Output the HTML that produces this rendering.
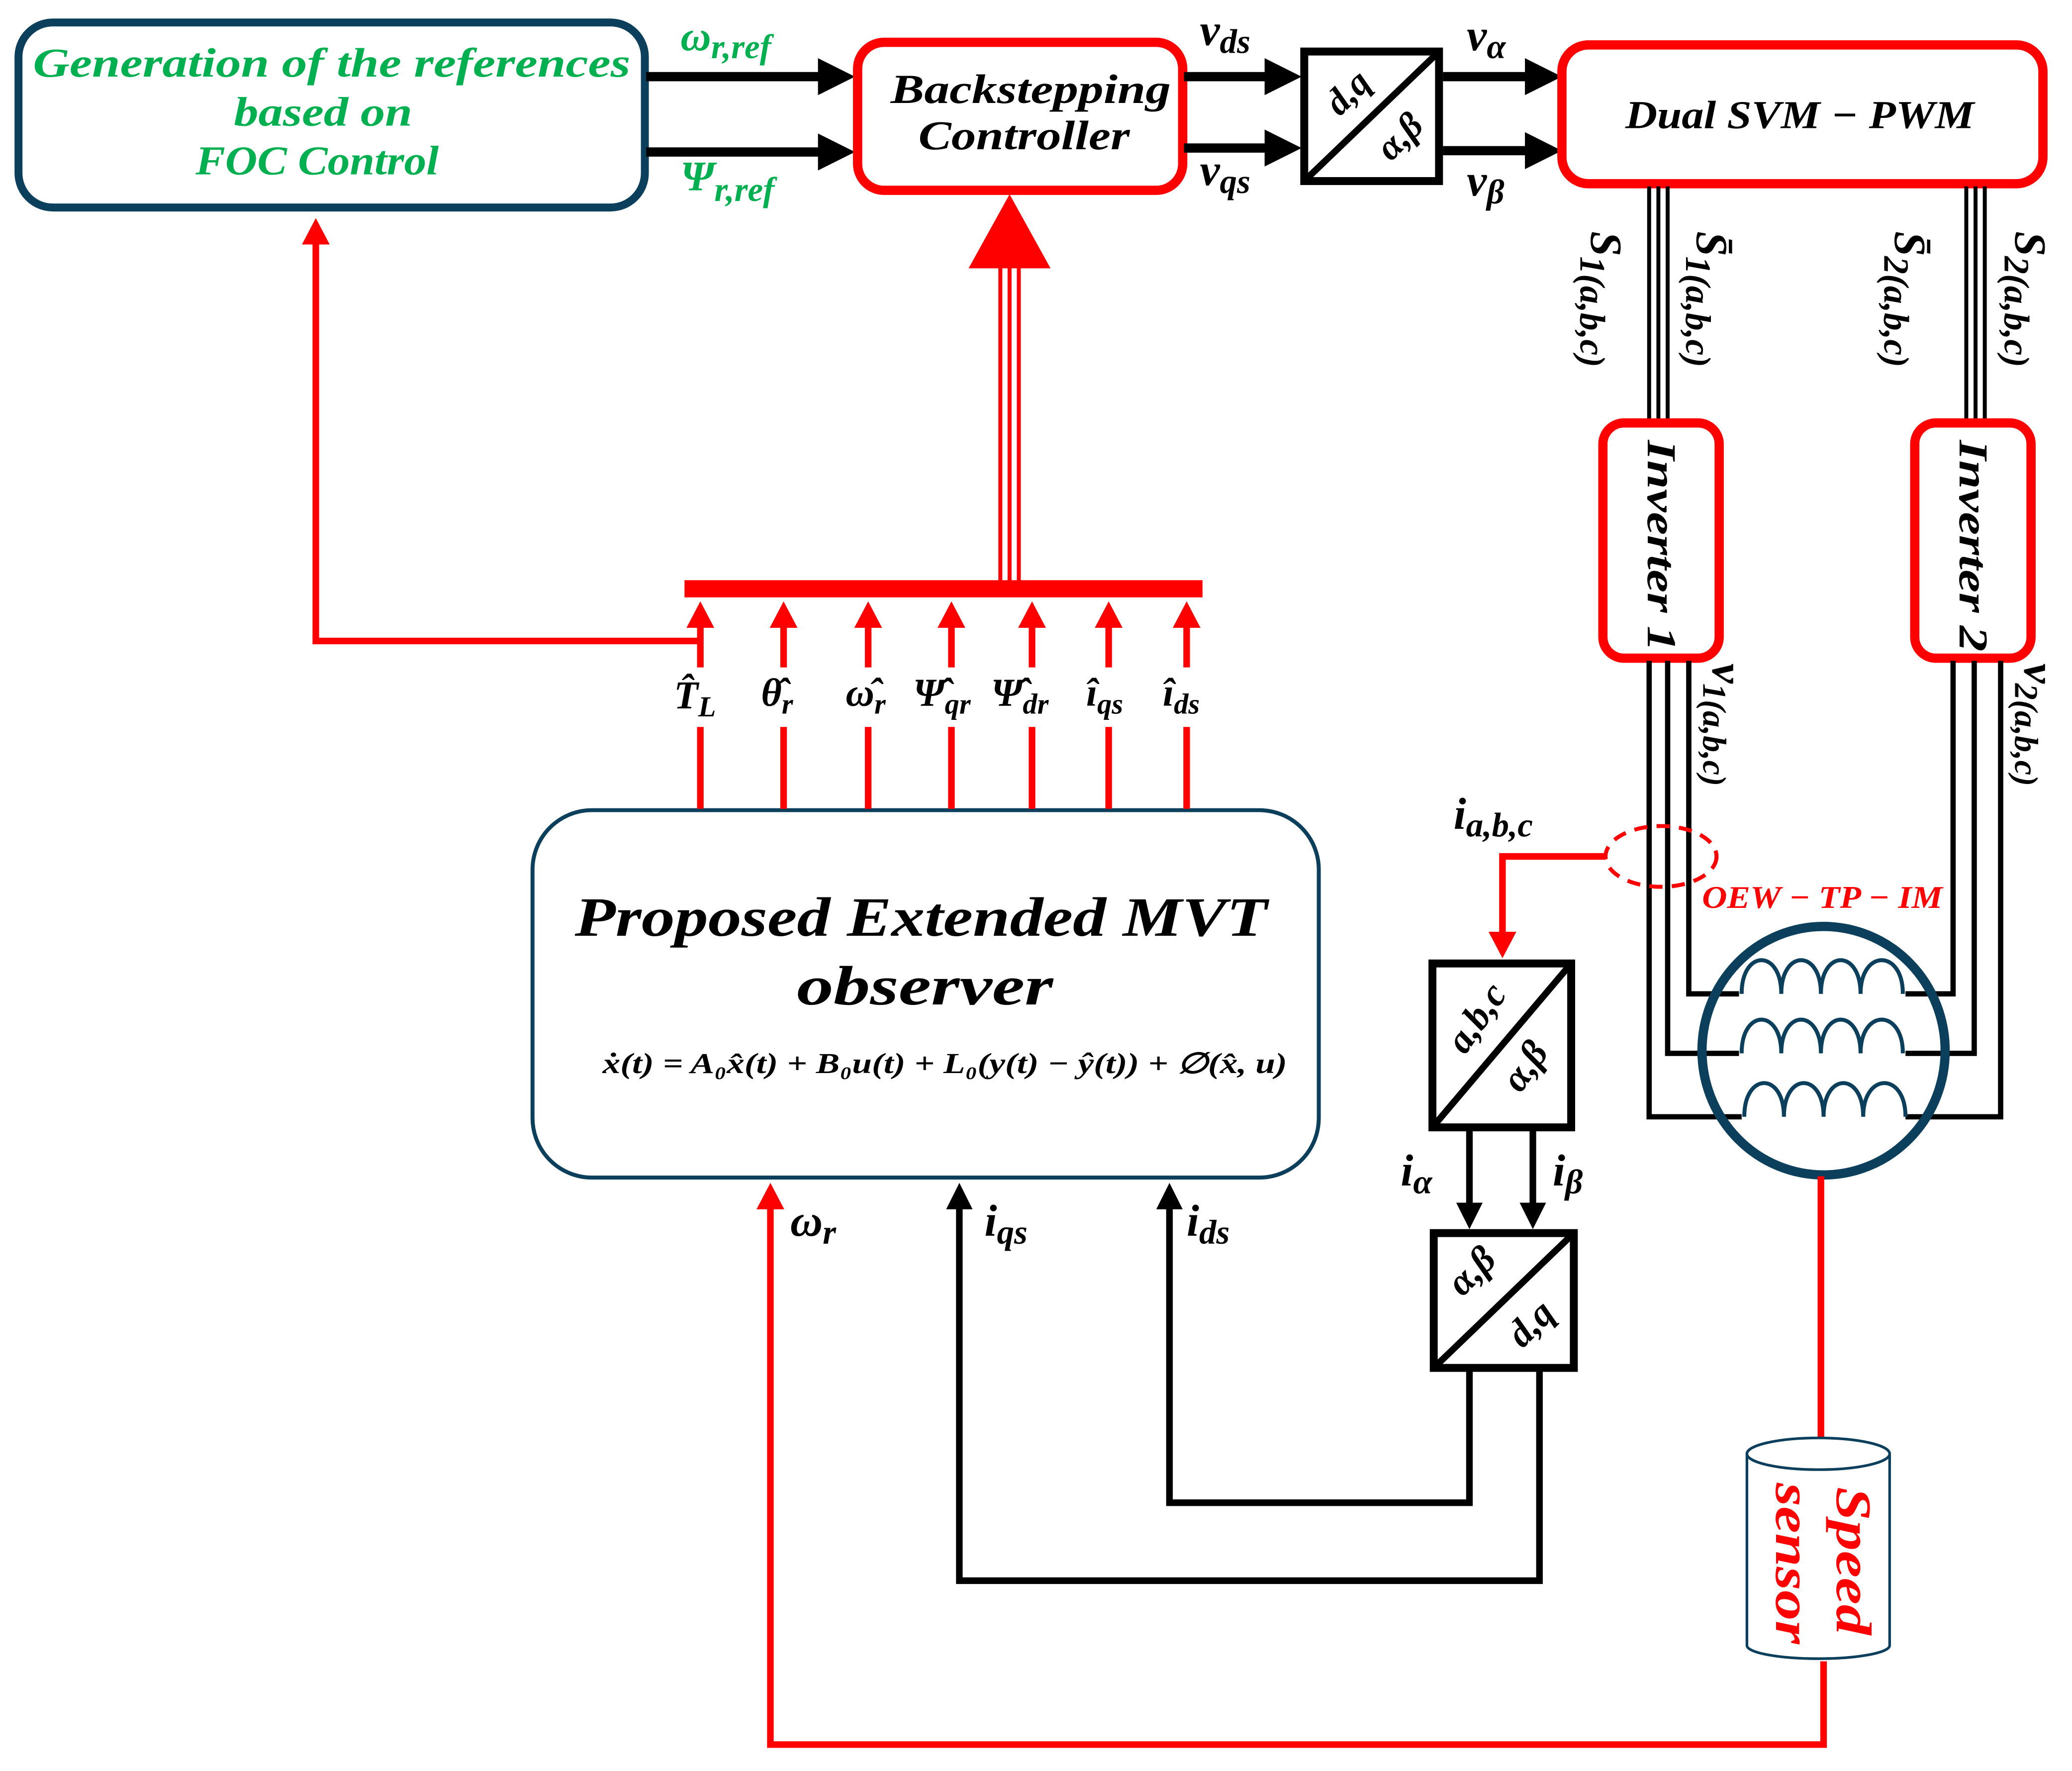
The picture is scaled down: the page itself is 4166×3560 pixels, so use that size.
<!DOCTYPE html>
<html><head><meta charset="utf-8"><style>
html,body{margin:0;padding:0;background:#fff;}
svg{display:block;}
text{font-family:"Liberation Serif","DejaVu Serif",serif;font-style:italic;font-weight:bold;}
</style></head><body>
<svg width="4166" height="3560" viewBox="0 0 1568 1340" preserveAspectRatio="none" xmlns="http://www.w3.org/2000/svg">
<defs>
<marker id="ab" markerWidth="4" markerHeight="4" refX="3" refY="2" orient="auto" markerUnits="strokeWidth"><path d="M0,0 L4,2 L0,4 z" fill="#000"/></marker>
<marker id="ar" markerWidth="4" markerHeight="5" refX="3" refY="2.5" orient="auto" markerUnits="strokeWidth"><path d="M0,0.4 L4,2.5 L0,4.6 z" fill="#f00"/></marker>
</defs>
<rect width="1568" height="1340" fill="#fff"/>

<!-- Generation box -->
<rect x="14" y="17" width="474" height="140" rx="26" fill="#fff" stroke="#0b3f5c" stroke-width="6"/>
<g fill="#00b050" font-size="31">
<text x="25" y="58" textLength="452" lengthAdjust="spacingAndGlyphs">Generation of the references</text>
<text x="177" y="95" textLength="135" lengthAdjust="spacingAndGlyphs">based on</text>
<text x="148" y="132" textLength="184" lengthAdjust="spacingAndGlyphs">FOC Control</text>
</g>
<line x1="489" y1="58" x2="640" y2="58" stroke="#000" stroke-width="7" marker-end="url(#ab)"/>
<line x1="489" y1="115" x2="640" y2="115" stroke="#000" stroke-width="7" marker-end="url(#ab)"/>
<text x="515" y="38" fill="#00b050" font-size="32">ω<tspan font-size="26" dy="6">r,ref</tspan></text>
<text x="515" y="144" fill="#00b050" font-size="32">Ψ<tspan font-size="26" dy="8">r,ref</tspan></text>

<!-- Backstepping -->
<rect x="649" y="32" width="246" height="112" rx="20" fill="#fff" stroke="#f00" stroke-width="7"/>
<g font-size="31" fill="#000">
<text x="674" y="78" textLength="212" lengthAdjust="spacingAndGlyphs">Backstepping</text>
<text x="695" y="113" textLength="160" lengthAdjust="spacingAndGlyphs">Controller</text>
</g>
<line x1="896" y1="58" x2="978" y2="58" stroke="#000" stroke-width="7" marker-end="url(#ab)"/>
<line x1="896" y1="112" x2="978" y2="112" stroke="#000" stroke-width="7" marker-end="url(#ab)"/>
<text x="908" y="34" font-size="34">v<tspan font-size="26" dy="6">ds</tspan></text>
<text x="908" y="140" font-size="34">v<tspan font-size="26" dy="6">qs</tspan></text>

<!-- dq/ab -->
<rect x="987" y="39" width="102" height="98" fill="#fff" stroke="#000" stroke-width="6"/>
<line x1="987" y1="137" x2="1089" y2="39" stroke="#000" stroke-width="5"/>
<text x="1022" y="78" font-size="28" text-anchor="middle" transform="rotate(-45 1022 72)">d,q</text>
<text x="1060" y="112" font-size="28" text-anchor="middle" transform="rotate(-45 1060 104)">α,β</text>
<line x1="1092" y1="58" x2="1175" y2="58" stroke="#000" stroke-width="7" marker-end="url(#ab)"/>
<line x1="1092" y1="114" x2="1175" y2="114" stroke="#000" stroke-width="7" marker-end="url(#ab)"/>
<text x="1110" y="38" font-size="34">v<tspan font-size="26" dy="6">α</tspan></text>
<text x="1110" y="148" font-size="34">v<tspan font-size="26" dy="6">β</tspan></text>

<!-- Dual SVM -->
<rect x="1182" y="34" width="364" height="105" rx="20" fill="#fff" stroke="#f00" stroke-width="7"/>
<text x="1230" y="97" font-size="30" textLength="264" lengthAdjust="spacingAndGlyphs">Dual SVM − PWM</text>

<!-- triple lines to inverters -->
<g stroke="#000" stroke-width="3">
<line x1="1248" y1="141" x2="1248" y2="320"/><line x1="1255" y1="141" x2="1255" y2="320"/><line x1="1262" y1="141" x2="1262" y2="320"/>
<line x1="1488" y1="141" x2="1488" y2="320"/><line x1="1495" y1="141" x2="1495" y2="320"/><line x1="1502" y1="141" x2="1502" y2="320"/>
</g>
<g font-size="34" font-weight="normal" fill="#000">
<text transform="translate(1204 175) rotate(90)">S<tspan font-size="27" dy="8">1(a,b,c)</tspan></text>
<text transform="translate(1284 175) rotate(90)">S̄<tspan font-size="27" dy="8">1(a,b,c)</tspan></text>
<text transform="translate(1434 175) rotate(90)">S̄<tspan font-size="27" dy="8">2(a,b,c)</tspan></text>
<text transform="translate(1525 175) rotate(90)">S<tspan font-size="27" dy="8">2(a,b,c)</tspan></text>
</g>

<!-- Inverters -->
<rect x="1213" y="320" width="88" height="178" rx="16" fill="#fff" stroke="#f00" stroke-width="7"/>
<rect x="1449" y="320" width="88" height="178" rx="16" fill="#fff" stroke="#f00" stroke-width="7"/>
<text transform="translate(1247 333) rotate(90)" font-size="31" font-weight="normal" textLength="160" lengthAdjust="spacingAndGlyphs">Inverter 1</text>
<text transform="translate(1483 333) rotate(90)" font-size="31" font-weight="normal" textLength="160" lengthAdjust="spacingAndGlyphs">Inverter 2</text>

<!-- Motor wiring -->
<g stroke="#000" stroke-width="4" fill="none">
<polyline points="1248,500 1248,845 1318,845"/>
<polyline points="1262,500 1262,797 1316,797"/>
<polyline points="1278,500 1278,752 1316,752"/>
<polyline points="1514,500 1514,845 1442,845"/>
<polyline points="1494,500 1494,797 1442,797"/>
<polyline points="1478,500 1478,752 1442,752"/>
</g>
<text transform="translate(1296 502) rotate(90)" font-size="34">v<tspan font-size="25" dy="7">1(a,b,c)</tspan></text>
<text transform="translate(1532 502) rotate(90)" font-size="34">v<tspan font-size="25" dy="7">2(a,b,c)</tspan></text>
<ellipse cx="1380" cy="795" rx="92" ry="94" fill="none" stroke="#0b3f5c" stroke-width="7"/>
<g stroke="#0b3f5c" stroke-width="3" fill="none">
<path d="M1318,752 C1318,718 1348,718 1348,752 C1348,718 1378,718 1378,752 C1378,718 1408,718 1408,752 C1408,718 1440,718 1440,752"/>
<path d="M1318,797 C1318,763 1348,763 1348,797 C1348,763 1378,763 1378,797 C1378,763 1408,763 1408,797 C1408,763 1440,763 1440,797"/>
<path d="M1320,845 C1320,811 1350,811 1350,845 C1350,811 1380,811 1380,845 C1380,811 1410,811 1410,845 C1410,811 1442,811 1442,845"/>
</g>
<ellipse cx="1257" cy="648" rx="42" ry="23" fill="none" stroke="#f00" stroke-width="3" stroke-dasharray="10,7"/>
<text x="1288" y="687" fill="#f00" font-size="24" textLength="182" lengthAdjust="spacingAndGlyphs">OEW − TP − IM</text>
<polyline points="1215,648 1137,648 1137,720" fill="none" stroke="#f00" stroke-width="5" marker-end="url(#ar)"/>
<text x="1100" y="627" font-size="34">i<tspan font-size="26" dy="6">a,b,c</tspan></text>

<!-- abc/ab box -->
<rect x="1084" y="729" width="105" height="124" fill="#fff" stroke="#000" stroke-width="6"/>
<line x1="1084" y1="853" x2="1189" y2="729" stroke="#000" stroke-width="5"/>
<text x="1120" y="778" font-size="29" text-anchor="middle" transform="rotate(-55 1120 772)">a,b,c</text>
<text x="1156" y="815" font-size="29" text-anchor="middle" transform="rotate(-55 1156 808)">α,β</text>
<line x1="1112" y1="855" x2="1112" y2="925" stroke="#000" stroke-width="5" marker-end="url(#ab)"/>
<line x1="1160" y1="855" x2="1160" y2="925" stroke="#000" stroke-width="5" marker-end="url(#ab)"/>
<text x="1060" y="897" font-size="34">i<tspan font-size="26" dy="6">α</tspan></text>
<text x="1175" y="897" font-size="34">i<tspan font-size="26" dy="6">β</tspan></text>

<!-- ab/dq box -->
<rect x="1085" y="933" width="106" height="102" fill="#fff" stroke="#000" stroke-width="6"/>
<line x1="1085" y1="1035" x2="1191" y2="933" stroke="#000" stroke-width="5"/>
<text x="1116" y="970" font-size="29" text-anchor="middle" transform="rotate(-45 1116 964)">α,β</text>
<text x="1160" y="1010" font-size="29" text-anchor="middle" transform="rotate(-45 1160 1003)">d,q</text>
<polyline points="1112,1036 1112,1137 885,1137 885,900" fill="none" stroke="#000" stroke-width="5" marker-end="url(#ab)"/>
<polyline points="1165,1036 1165,1196 726,1196 726,900" fill="none" stroke="#000" stroke-width="5" marker-end="url(#ab)"/>

<!-- Speed sensor -->
<line x1="1378" y1="890" x2="1378" y2="1100" stroke="#f00" stroke-width="5"/>
<path d="M1322,1100 L1322,1245 A54,10 0 0 0 1430,1245 L1430,1100" fill="#fff" stroke="#0b3f5c" stroke-width="2"/>
<ellipse cx="1376" cy="1100" rx="54" ry="12" fill="#fff" stroke="#0b3f5c" stroke-width="2"/>
<text transform="translate(1390 1125) rotate(90)" fill="#f00" font-size="38" textLength="112" lengthAdjust="spacingAndGlyphs">Speed</text>
<text transform="translate(1344 1122) rotate(90)" fill="#f00" font-size="38" textLength="122" lengthAdjust="spacingAndGlyphs">sensor</text>
<polyline points="1380,1257 1380,1320 583,1320 583,900" fill="none" stroke="#f00" stroke-width="5" marker-end="url(#ar)"/>

<!-- Observer -->
<rect x="403" y="613" width="595" height="278" rx="45" fill="#fff" stroke="#0b3f5c" stroke-width="3"/>
<text x="435" y="708" font-size="42" textLength="524" lengthAdjust="spacingAndGlyphs">Proposed Extended MVT</text>
<text x="603" y="760" font-size="42" textLength="194" lengthAdjust="spacingAndGlyphs">observer</text>
<text x="456" y="812" font-size="22" font-weight="normal" textLength="518" lengthAdjust="spacingAndGlyphs">ẋ(t) = A₀x̂(t) + B₀u(t) + L₀(y(t) − ŷ(t)) + ∅(x̂, u)</text>
<text x="598" y="935" font-size="34">ω<tspan font-size="26" dy="6">r</tspan></text>
<text x="745" y="935" font-size="34">i<tspan font-size="26" dy="6">qs</tspan></text>
<text x="898" y="935" font-size="34">i<tspan font-size="26" dy="6">ds</tspan></text>

<!-- outputs to bus -->
<rect x="518" y="439" width="392" height="13" fill="#f00"/>
<g stroke="#f00" stroke-width="5" fill="none">
<line x1="530" y1="612" x2="530" y2="550"/><line x1="530" y1="505" x2="530" y2="460" marker-end="url(#ar)"/>
<line x1="593" y1="612" x2="593" y2="550"/><line x1="593" y1="505" x2="593" y2="460" marker-end="url(#ar)"/>
<line x1="657" y1="612" x2="657" y2="550"/><line x1="657" y1="505" x2="657" y2="460" marker-end="url(#ar)"/>
<line x1="720" y1="612" x2="720" y2="550"/><line x1="720" y1="505" x2="720" y2="460" marker-end="url(#ar)"/>
<line x1="781" y1="612" x2="781" y2="550"/><line x1="781" y1="505" x2="781" y2="460" marker-end="url(#ar)"/>
<line x1="839" y1="612" x2="839" y2="550"/><line x1="839" y1="505" x2="839" y2="460" marker-end="url(#ar)"/>
<line x1="898" y1="612" x2="898" y2="550"/><line x1="898" y1="505" x2="898" y2="460" marker-end="url(#ar)"/>
<polyline points="528,485 239,485 239,170" marker-end="url(#ar)"/>
</g>
<g font-size="30">
<text x="510" y="536">T̂<tspan font-size="22" dy="6">L</tspan></text>
<text x="576" y="534">θ̂<tspan font-size="22" dy="6">r</tspan></text>
<text x="640" y="534">ω̂<tspan font-size="22" dy="6">r</tspan></text>
<text x="691" y="534">Ψ̂<tspan font-size="22" dy="6">qr</tspan></text>
<text x="750" y="534">Ψ̂<tspan font-size="22" dy="6">dr</tspan></text>
<text x="822" y="534">î<tspan font-size="22" dy="6">qs</tspan></text>
<text x="880" y="534">î<tspan font-size="22" dy="6">ds</tspan></text>
</g>
<g stroke="#f00" stroke-width="3">
<line x1="757" y1="440" x2="757" y2="200"/><line x1="764" y1="440" x2="764" y2="200"/><line x1="771" y1="440" x2="771" y2="200"/>
</g>
<path d="M733,203 L764,147 L795,203 z" fill="#f00"/>
</svg>
</body></html>
